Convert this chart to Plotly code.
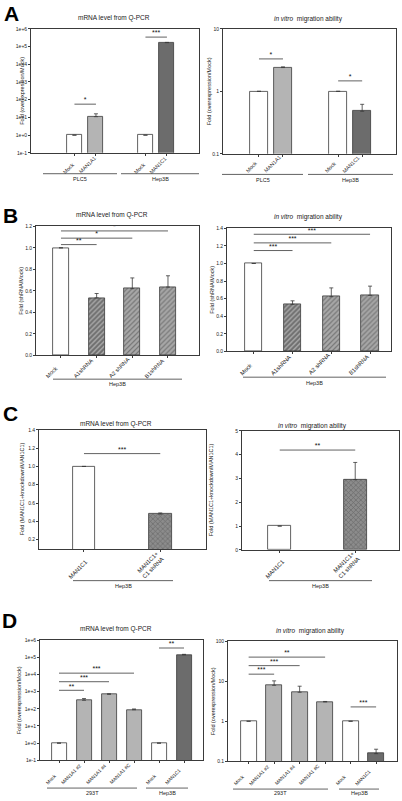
import plotly.graph_objects as go

# ---------------- data ----------------
A_labels = ["Mock", "MAN1A1", "Mock", "MAN1C1"]
A_groups = ["PLC5", "PLC5", "Hep3B", "Hep3B"]
A_mrna = [1, 11, 1, 165000]
A_mrna_err = [0, 5, 0, 6000]
A_mig = [1, 2.4, 1, 0.48]
A_mig_err = [0, 0.06, 0, 0.14]
A_mrna_sig = [(0, 1, 56, "*"), (2, 3, 340000, "***")]
A_mig_sig = [(0, 1, 3.3, "*"), (2, 3, 1.47, "*")]

B_labels = ["Mock", "A1shRNA", "A2 shRNA", "B1shRNA"]
B_groups = ["Hep3B"] * 4
B_mrna = [1.0, 0.535, 0.62, 0.635]
B_mrna_err = [0, 0.04, 0.10, 0.105]
B_mig = [1.0, 0.535, 0.622, 0.637]
B_mig_err = [0, 0.04, 0.10, 0.105]
B_mrna_sig = [(0, 1, 1.03, "**"), (0, 2, 1.09, "*"), (0, 3, 1.157, "*")]
B_mig_sig = [(0, 1, 1.147, "***"), (0, 2, 1.234, "***"), (0, 3, 1.332, "***")]

C_labels = ["MAN1C1", "MAN1C1+<br>C1 shRNA"]
C_groups = ["Hep3B"] * 2
C_mrna = [1.0, 0.48]
C_mrna_err = [0, 0.012]
C_mig = [1.0, 2.95]
C_mig_err = [0, 0.72]
C_mrna_sig = [(0, 1, 1.14, "***")]
C_mig_sig = [(0, 1, 4.19, "**")]

D_labels = ["Mock", "MAN1A1 #2", "MAN1A1 #4", "MAN1A1 #C", "Mock", "MAN1C1"]
D_groups = ["293T", "293T", "293T", "293T", "Hep3B", "Hep3B"]
D_mrna = [1, 316, 700, 88, 1, 140000]
D_mrna_err = [0, 80, 50, 10, 0, 10000]
D_mig = [1, 7.9, 5.3, 3.04, 1, 0.155]
D_mig_err = [0, 2.3, 2.2, 0.08, 0, 0.045]
D_mrna_sig = [(0, 1, 1200, "**"), (0, 2, 3800, "***"), (0, 3, 12000, "***"), (4, 5, 350000, "**")]
D_mig_sig = [(0, 1, 15, "***"), (0, 2, 24.5, "***"), (0, 3, 40, "**"), (4, 5, 2.28, "***")]

LOG6_vals = [0.1, 1, 10, 100, 1000, 1e4, 1e5, 1e6]
LOG6_text = ["1e-1", "1e+0", "1e+1", "1e+2", "1e+3", "1e+4", "1e+5", "1e+6"]
LOG1_vals = [0.1, 1, 10]
LOG1_text = ["0.1", "1", "10"]
LOG2_vals = [0.1, 1, 10, 100]
LOG2_text = ["0.1", "1", "10", "100"]
B1_vals = [0, 0.2, 0.4, 0.6, 0.8, 1.0, 1.2]
B2_vals = [0, 0.2, 0.4, 0.6, 0.8, 1.0, 1.2, 1.4]
C1_vals = [0.2, 0.4, 0.6, 0.8, 1.0, 1.2, 1.4]
C2_vals = [0, 1, 2, 3, 4, 5]

# ---------------- styling ----------------
W, H = 402, 801
FONT = "Liberation Sans, Arial, sans-serif"
LINE = "#3a3a3a"
WHITE = "#ffffff"
LGRAY = "#b4b4b4"
DGRAY = "#6c6c6c"

# approximate Helvetica/Arial advance widths (per 1 em)
_CW = {c: 0.667 for c in "ABEKPSVXY"}
_CW.update({c: 0.722 for c in "CDHNRUw"})
_CW.update({"M": 0.833, "m": 0.833, "G": 0.778, "O": 0.778, "Q": 0.778, "F": 0.611, "T": 0.611,
            "Z": 0.611, "L": 0.556, "J": 0.5, "I": 0.278, "W": 0.944,
            "c": 0.5, "k": 0.5, "s": 0.5, "v": 0.5, "x": 0.5, "y": 0.5, "z": 0.5,
            "i": 0.222, "j": 0.222, "l": 0.222, "f": 0.278, "t": 0.278, "r": 0.333,
            " ": 0.278, "+": 0.584, "#": 0.556})


def text_w(s, size):
    return max(sum(_CW.get(ch, 0.556) for ch in line) for line in s.split("<br>")) * size


def fx(px):
    return px / W


def fy(py):
    return 1 - py / H


def positions(groups, gap):
    pos, p = [], 0.0
    for i, g in enumerate(groups):
        if i > 0:
            p += 1 if g == groups[i - 1] else gap
        pos.append(p)
    return pos


fig = go.Figure()
annotations = []
shapes = []

HATCH = (["", "/", "/", "/"], ["#ffffff", "#2e2e2e", "#4a4a4a", "#4a4a4a"])
CROSS = (["", "x"], ["#ffffff", "#3c3c3c"])

panels = [
    # A left
    dict(labels=A_labels, groups=A_groups, vals=A_mrna, err=A_mrna_err, sig=A_mrna_sig, gap=2.3,
         xpx=(31, 199), ypx=(26, 151), xr=(-2.02, 5.79), log=True, yr=(-1, 6),
         tv=LOG6_vals, tt=LOG6_text, width=0.7,
         colors=[WHITE, LGRAY, WHITE, DGRAY], pat=None,
         title="mRNA level from Q-PCR", tpos=(114, 15),
         ytitle="Fold (overexpression/Mock)", ytx=22,
         lab=(5.3, 1, 22),
         glines=[(43, 117, "PLC5"), (121, 199, "Hep3B")], gy=172, gly=177.5),
    # A right
    dict(labels=A_labels, groups=A_groups, vals=A_mig, err=A_mig_err, sig=A_mig_sig, gap=2.3,
         xpx=(223, 396), ypx=(26, 152), xr=(-1.5, 5.71), log=True, yr=(-1, 1),
         tv=LOG1_vals, tt=LOG1_text, width=0.74,
         colors=[WHITE, LGRAY, WHITE, DGRAY], pat=None,
         title="<i>in vitro</i>  migration ability", tpos=(308, 16),
         ytitle="Fold (overexpression/Mock)", ytx=209,
         lab=(5.3, -1, 20),
         glines=[(222, 303, "PLC5"), (308, 393, "Hep3B")], gy=172.7, gly=178.5),
    # B left
    dict(labels=B_labels, groups=B_groups, vals=B_mrna, err=B_mrna_err, sig=B_mrna_sig, gap=1,
         xpx=(36, 199), ypx=(225, 355), xr=(-0.7, 3.87), log=False, yr=(0, 1.2),
         tv=B1_vals, tt=["%.1f" % v for v in B1_vals], width=0.45,
         colors=[WHITE, "#6e6e6e", "#a8a8a8", "#a8a8a8"], pat=HATCH,
         title="mRNA level from Q-PCR", tpos=(112, 214),
         ytitle="Fold (shRNA/Mock)", ytx=21,
         lab=(5.6, -2, 24),
         glines=[(53, 182, "Hep3B")], gy=379, gly=384),
    # B right
    dict(labels=B_labels, groups=B_groups, vals=B_mig, err=B_mig_err, sig=B_mig_sig, gap=1,
         xpx=(227, 391), ypx=(227, 351), xr=(-0.69, 3.54), log=False, yr=(0, 1.4),
         tv=B2_vals, tt=["%.1f" % v for v in B2_vals], width=0.45,
         colors=[WHITE, "#6e6e6e", "#a8a8a8", "#a8a8a8"], pat=HATCH,
         title="<i>in vitro</i>  migration ability", tpos=(308, 216),
         ytitle="Fold (shRNA/Mock)", ytx=212,
         lab=(5.8, 0, 25),
         glines=[(243, 386, "Hep3B")], gy=377, gly=382.5),
    # C left
    dict(labels=C_labels, groups=C_groups, vals=C_mrna, err=C_mrna_err, sig=C_mrna_sig, gap=1,
         xpx=(39, 206), ypx=(430, 550), xr=(-0.59, 1.6), log=False, yr=(0.1, 1.4),
         tv=C1_vals, tt=["%.1f" % v for v in C1_vals], width=0.3,
         colors=[WHITE, "#8c8c8c"], pat=CROSS,
         title="mRNA level from Q-PCR", tpos=(116, 424),
         ytitle="Fold (MAN1C1+knockdown/MAN1C1)", ytx=22,
         lab=(5.8, 5, 31),
         glines=[(73, 173, "Hep3B")], gy=582, gly=587),
    # C right
    dict(labels=C_labels, groups=C_groups, vals=C_mig, err=C_mig_err, sig=C_mig_sig, gap=1,
         xpx=(242, 399), ypx=(431, 551), xr=(-0.5, 1.58), log=False, yr=(0, 5),
         tv=C2_vals, tt=[str(v) for v in C2_vals], width=0.3,
         colors=[WHITE, "#8c8c8c"], pat=CROSS,
         title="<i>in vitro</i>  migration ability", tpos=(312, 426),
         ytitle="Fold (MAN1C1+knockdown/MAN1C1)", ytx=211,
         lab=(5.8, 6, 30),
         glines=[(269, 372, "Hep3B")], gy=582, gly=587),
    # D left
    dict(labels=D_labels, groups=D_groups, vals=D_mrna, err=D_mrna_err, sig=D_mrna_sig, gap=1,
         xpx=(40, 203), ypx=(642, 763), xr=(-0.76, 5.76), log=True, yr=(-1, 6),
         tv=LOG6_vals, tt=LOG6_text, width=0.6,
         colors=[WHITE, LGRAY, LGRAY, LGRAY, WHITE, DGRAY], pat=None,
         title="mRNA level from Q-PCR", tpos=(116, 631),
         ytitle="Fold (overexpression/Mock)", ytx=19,
         lab=(4.8, -2, 25),
         glines=[(47, 137, "293T"), (146, 188, "Hep3B")], gy=791, gly=795.5),
    # D right
    dict(labels=D_labels, groups=D_groups, vals=D_mig, err=D_mig_err, sig=D_mig_sig, gap=1,
         xpx=(228, 397), ypx=(643, 764), xr=(-0.81, 5.82), log=True, yr=(-1, 2),
         tv=LOG2_vals, tt=LOG2_text, width=0.63,
         colors=[WHITE, LGRAY, LGRAY, LGRAY, WHITE, DGRAY], pat=None,
         title="<i>in vitro</i>  migration ability", tpos=(310, 633),
         ytitle="Fold (overexpression/Mock)", ytx=213,
         lab=(4.8, -4, 25),
         glines=[(233, 328, "293T"), (339, 379, "Hep3B")], gy=792, gly=795.5),
]

layout_axes = {}
for k, p in enumerate(panels):
    n = "" if k == 0 else str(k + 1)
    xref, yref = "x" + n, "y" + n
    pos = positions(p["groups"], p["gap"])

    marker = dict(color=p["colors"], line=dict(color=LINE, width=0.8))
    if p["pat"] is not None:
        marker["pattern"] = dict(shape=p["pat"][0], fgcolor=p["pat"][1], bgcolor=p["colors"],
                                 size=3.5, solidity=0.35, fillmode="overlay")
    fig.add_trace(go.Bar(
        x=pos, y=p["vals"], width=p["width"], marker=marker,
        error_y=dict(type="data", array=p["err"], arrayminus=[0] * len(p["err"]),
                     symmetric=False, color=LINE, thickness=0.8, width=2),
        xaxis=xref, yaxis=yref, showlegend=False, hoverinfo="skip"))

    # significance brackets
    lx, ly, tx, ty, tt = [], [], [], [], []
    for (i, j, yv, lab) in p["sig"]:
        lx += [pos[i], pos[j], None]
        ly += [yv, yv, None]
        tx.append((pos[i] + pos[j]) / 2)
        ty.append(yv)
        tt.append(lab)
    fig.add_trace(go.Scatter(x=lx, y=ly, mode="lines", line=dict(color=LINE, width=0.8),
                             xaxis=xref, yaxis=yref, showlegend=False, hoverinfo="skip"))
    fig.add_trace(go.Scatter(x=tx, y=ty, mode="text", text=tt, textposition="top center",
                             textfont=dict(size=7, color="#111", family=FONT),
                             xaxis=xref, yaxis=yref, showlegend=False, hoverinfo="skip"))

    ax_common = dict(showline=True, mirror=True, linecolor=LINE, linewidth=0.8,
                     showgrid=False, zeroline=False, ticks="outside", ticklen=2,
                     tickcolor=LINE, tickwidth=0.6)
    layout_axes["xaxis" + n] = dict(
        ax_common, domain=[fx(p["xpx"][0]), fx(p["xpx"][1])], anchor=yref,
        range=list(p["xr"]), tickvals=pos, showticklabels=False)
    ya = dict(ax_common, domain=[fy(p["ypx"][1]), fy(p["ypx"][0])], anchor=xref,
              range=list(p["yr"]), tickvals=p["tv"], ticktext=p["tt"],
              tickfont=dict(size=5, color="#222", family=FONT))
    if p["log"]:
        ya["type"] = "log"
    layout_axes["yaxis" + n] = ya

    # rotated category labels under each bar (centre placed from the rotated box)
    fs, rx, by = p["lab"]
    for xv, lab in zip(pos, p["labels"]):
        nl = lab.count("<br>") + 1
        w = text_w(lab, fs)
        h = 1.15 * fs * nl
        R = 0.3536 * (w + h)
        annotations.append(dict(x=xv, xref=xref, y=fy(p["ypx"][1] + by - R), yref="paper",
                                text=lab, textangle=-45, showarrow=False,
                                xanchor="center", yanchor="middle", xshift=rx - R,
                                align="right", borderpad=0,
                                font=dict(size=fs, color="#222", family=FONT)))

    # titles
    annotations.append(dict(x=fx(p["tpos"][0]), y=fy(p["tpos"][1]), xref="paper", yref="paper",
                            text=p["title"], showarrow=False, xanchor="center", yanchor="middle",
                            font=dict(size=6.5, color="#222", family=FONT)))
    annotations.append(dict(x=fx(p["ytx"]), y=fy((p["ypx"][0] + p["ypx"][1]) / 2),
                            xref="paper", yref="paper", text=p["ytitle"], textangle=-90,
                            showarrow=False, xanchor="center", yanchor="middle",
                            font=dict(size=5.5, color="#222", family=FONT)))
    # group lines and labels
    for (x0, x1, lab) in p["glines"]:
        shapes.append(dict(type="line", xref="paper", yref="paper", x0=fx(x0), x1=fx(x1),
                           y0=fy(p["gy"]), y1=fy(p["gy"]), line=dict(color=LINE, width=0.8)))
        annotations.append(dict(x=fx((x0 + x1) / 2), y=fy(p["gly"]), xref="paper", yref="paper",
                                text=lab, showarrow=False, xanchor="center", yanchor="middle",
                                borderpad=0,
                                font=dict(size=5.5, color="#222", family=FONT)))

# panel letters
for lab, (px, py) in zip(["A", "B", "C", "D"], [(11, 11), (10, 214), (10, 414), (9, 622)]):
    annotations.append(dict(x=fx(px), y=fy(py), xref="paper", yref="paper",
                            text="<b>%s</b>" % lab, showarrow=False, xanchor="center",
                            yanchor="middle", font=dict(size=21, color="#000", family=FONT)))

fig.update_layout(
    width=W, height=H, margin=dict(l=0, r=0, t=0, b=0),
    paper_bgcolor="white", plot_bgcolor="white",
    font=dict(family=FONT, color="#222"),
    annotations=annotations, shapes=shapes, bargap=0,
    **layout_axes)

fig.write_html("out.html", config={"displayModeBar": False},
               post_script="document.body.style.margin='0';document.body.style.padding='0';"
                           "document.body.style.overflow='hidden';")
